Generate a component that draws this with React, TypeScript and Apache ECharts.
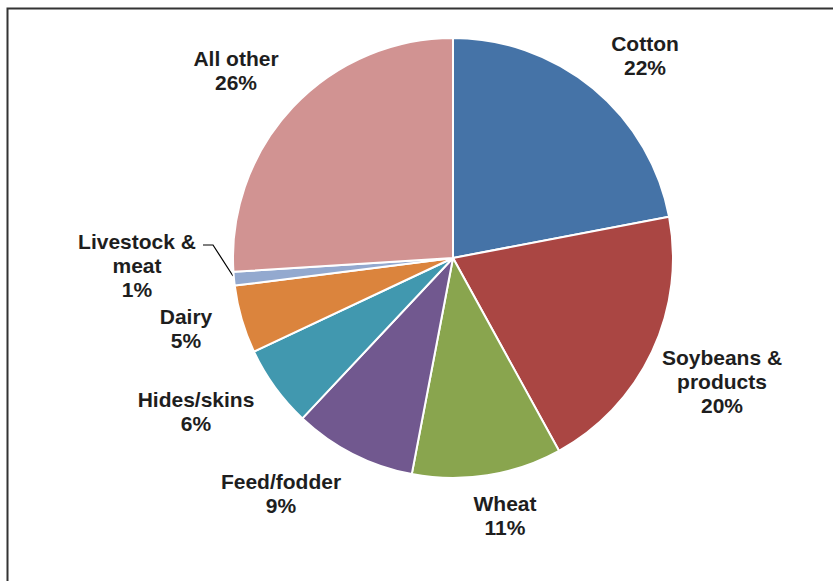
import React, { useEffect, useRef } from "react";
import * as echarts from "echarts";

const categories = [
  "Cotton",
  "Soybeans &\nproducts",
  "Wheat",
  "Feed/fodder",
  "Hides/skins",
  "Dairy",
  "Livestock &\nmeat",
  "All other",
];
const shares = [22, 20, 11, 9, 6, 5, 1, 26];
const colors = ["#4573A7", "#AA4643", "#89A54E", "#71588F", "#4198AF", "#DB843D", "#93A9CF", "#D19392"];

// label anchor centres (layout only)
const labelAnchors: [number, number][] = [
  [645, 55],
  [722, 381],
  [505, 515],
  [281, 493],
  [196, 411],
  [186, 328],
  [137, 265],
  [236, 70],
];

export default function App() {
  const ref = useRef<HTMLDivElement>(null);
  useEffect(() => {
    if (!ref.current) return;
    const chart = echarts.init(ref.current, undefined, { renderer: "svg" });
    chart.setOption({
      animation: false,
      backgroundColor: "#ffffff",
      graphic: [
        {
          type: "rect",
          shape: { x: 7.5, y: 8.5, width: 900, height: 700 },
          style: { fill: "none", stroke: "#333333", lineWidth: 2 },
          silent: true,
        },
      ],
      series: [
        {
          type: "pie",
          center: [453, 258],
          radius: 220,
          startAngle: 90,
          clockwise: true,
          avoidLabelOverlap: false,
          emphasis: { disabled: true },
          itemStyle: { borderColor: "#ffffff", borderWidth: 2 },
          label: {
            show: true,
            position: "outside",
            formatter: (p: any) => `${p.name}\n${p.value}%`,
            fontFamily: "'Liberation Sans', Arial, sans-serif",
            fontWeight: "bold",
            fontSize: 21,
            lineHeight: 24,
            color: "#1e1e1e",
            align: "center",
          },
          labelLine: { show: false },
          labelLayout: (params: any) => {
            const i = params.dataIndex;
            const [x, y] = labelAnchors[i];
            const res: any = { x, y, align: "center", verticalAlign: "middle" };
            if (i === 6) {
              res.labelLinePoints = [
                [233, 276],
                [213, 245],
                [203, 245],
              ];
            }
            return res;
          },
          data: categories.map((name, i) => ({
            name,
            value: shares[i],
            itemStyle: { color: colors[i] },
            labelLine:
              i === 6
                ? { show: true, lineStyle: { color: "#000000", width: 1.2 } }
                : { show: false },
          })),
        },
      ],
    });
    return () => chart.dispose();
  }, []);
  return (
    <div
      ref={ref}
      style={{ position: "absolute", left: 0, top: 0, width: 833, height: 581 }}
    />
  );
}
